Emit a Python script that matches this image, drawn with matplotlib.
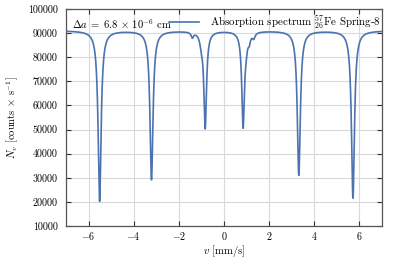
import numpy as np
import matplotlib
matplotlib.use("Agg")
import matplotlib.pyplot as plt

# --- data (Lorentzian line parameters) ---
baseline = 91000
line_pos = [-5.51, -3.21, -0.83, 0.85, 3.32, 5.72]
line_min = [20000, 29000, 50800, 51500, 30800, 21300]
line_hwhm = [0.08, 0.08, 0.07, 0.07, 0.08, 0.08]
# small satellite features near the inner lines
sat_pos = [-1.40, -1.00, 0.98, 1.12, 1.32]
sat_depth = [2200, 3500, 4000, 3000, 2200]
sat_hwhm = [0.06, 0.08, 0.07, 0.06, 0.07]

x_ticks = [-6, -4, -2, 0, 2, 4, 6]
y_ticks = [10000, 20000, 30000, 40000, 50000, 60000, 70000, 80000, 90000, 100000]

plt.rcParams['font.family'] = 'serif'
plt.rcParams['font.serif'] = ['cmr10', 'DejaVu Serif']
plt.rcParams['mathtext.fontset'] = 'cm'
plt.rcParams['axes.formatter.use_mathtext'] = True
plt.rcParams['axes.unicode_minus'] = True

v = np.linspace(-7, 7, 4001)
N = np.full_like(v, float(baseline))
for p, m, w in zip(line_pos, line_min, line_hwhm):
    d = baseline - 300 - m
    N -= d * w**2 / (w**2 + (v - p)**2)
for p, d, w in zip(sat_pos, sat_depth, sat_hwhm):
    N -= d * w**2 / (w**2 + (v - p)**2)

fig = plt.figure(figsize=(3.99, 2.58), dpi=100)
ax = fig.add_axes([0.1654, 0.124, 0.7916, 0.841])
fs = 7.2
fs_leg = 7.9

ax.plot(v, N, color='#4c72b0', lw=1.2,
        label=r'Absorption spectrum $^{57}_{26}$Fe Spring-8', zorder=3)
ax.set_xlim(-7, 7)
ax.set_ylim(10000, 100000)
ax.set_xticks(x_ticks)
ax.set_yticks(y_ticks)
ax.set_yticklabels([str(t) for t in y_ticks])
ax.grid(True, color='#d9d9d9', lw=0.8)
ax.set_axisbelow(True)
ax.tick_params(direction='in', length=3.5, width=0.8, top=True, right=True,
               labelsize=fs, colors='#333333', labelcolor='black')
ax.tick_params(axis='x', pad=3)
ax.tick_params(axis='y', pad=6)
for s in ax.spines.values():
    s.set_color('#555555')
    s.set_linewidth(0.9)

ax.set_xlabel(r'$v$ [mm/s]', fontsize=7.6, labelpad=0.5)
ax.set_ylabel(r'$N_v$ [counts $\times$ s$^{-1}$]', fontsize=7.6, labelpad=5)

ax.text(0.02, 0.962, r'$\Delta a\;=\;6.8\,\times\,10^{-6}$ cm', transform=ax.transAxes,
        fontsize=7.6, va='top', ha='left')
ax.legend(loc='upper right', frameon=False, fontsize=fs_leg, handlelength=2.7,
          borderaxespad=0.0, borderpad=0.1, handletextpad=1.0,
          bbox_to_anchor=(1.0, 0.985))

fig.savefig('out.png', dpi=100)
